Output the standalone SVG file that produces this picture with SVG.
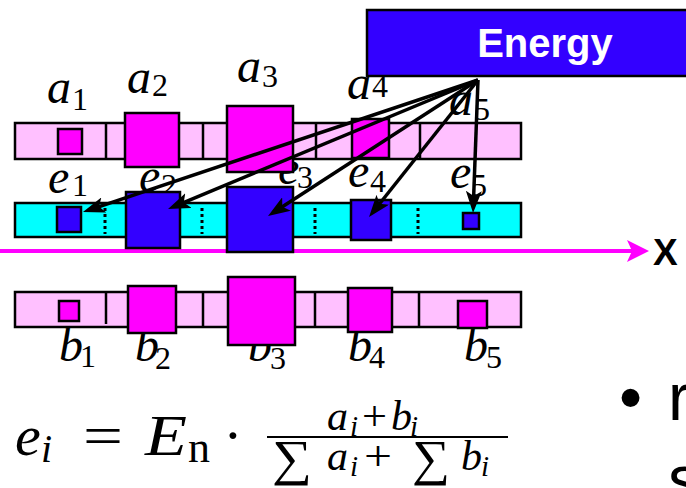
<svg xmlns="http://www.w3.org/2000/svg" width="686" height="488" viewBox="0 0 686 488">
<style>
.bar{stroke:#000;stroke-width:2.5}
.pink{fill:#ffc0ff}
.cyan{fill:#00ffff}
.mag{fill:#ff00ff;stroke:#000;stroke-width:2.5}
.blue{fill:#3300ff;stroke:#000;stroke-width:2.5}
.div{stroke:#000;stroke-width:2.5}
.dot{stroke:#000;stroke-width:3;stroke-dasharray:3 3}
.v{font-family:"Liberation Serif","Times New Roman",serif;font-style:italic;font-size:48px;fill:#000}
.s{font-family:"Liberation Serif","Times New Roman",serif;font-size:32px;fill:#000}
.f{font-family:"Liberation Serif","Times New Roman",serif;fill:#000}
.conn{stroke:#000;stroke-width:3.5;fill:none;marker-end:url(#ah)}
</style>
<defs>
<marker id="ah" markerUnits="userSpaceOnUse" markerWidth="22" markerHeight="16" refX="15" refY="8" orient="auto" viewBox="0 0 22 16">
<path d="M0,0 L22,8 L0,16 L5,8 z" fill="#000"/>
</marker>
</defs>

<g id="bars">
<rect class="bar pink" x="15" y="123" width="506" height="36"/>
<line class="div" x1="106" y1="123" x2="106" y2="159"/>
<line class="div" x1="203" y1="123" x2="203" y2="159"/>
<line class="div" x1="316" y1="123" x2="316" y2="159"/>
<line class="div" x1="420" y1="123" x2="420" y2="159"/>
<rect class="bar cyan" x="15" y="203" width="506" height="34"/>
<line class="dot" x1="105" y1="208" x2="105" y2="234"/>
<line class="dot" x1="202" y1="208" x2="202" y2="234"/>
<line class="dot" x1="315" y1="208" x2="315" y2="234"/>
<line class="dot" x1="418" y1="208" x2="418" y2="234"/>
<rect class="bar pink" x="15" y="292" width="506" height="35"/>
<line class="div" x1="106" y1="292" x2="106" y2="324"/>
<line class="div" x1="203" y1="292" x2="203" y2="327"/>
<line class="div" x1="315" y1="292" x2="315" y2="327"/>
<line class="div" x1="419" y1="292" x2="419" y2="327"/>
</g>

<g id="axis">
<line x1="0" y1="251" x2="633" y2="251" stroke="#ff00ff" stroke-width="4"/>
<polygon points="649,251 627,240 632,251 627,262" fill="#ff00ff"/>
<text x="653" y="265" font-family="Liberation Sans,Arial,sans-serif" font-weight="bold" font-size="37">X</text>
</g>

<g id="e1"><text class="v" x="48" y="193">e</text><text class="s" x="72" y="196">1</text><rect class="blue" x="57" y="207" width="24" height="25"/></g>
<g id="e2"><text class="v" x="139" y="192">e</text><text class="s" x="161" y="196">2</text><rect class="blue" x="126" y="192" width="54" height="56"/></g>
<g id="e3"><text class="v" x="278" y="184">e</text><text class="s" x="297" y="188">3</text><rect class="blue" x="227" y="187" width="66" height="65"/></g>
<g id="e4"><text class="v" x="348" y="187">e</text><text class="s" x="370" y="192">4</text><rect class="blue" x="351" y="200" width="40" height="40"/></g>
<g id="e5"><text class="v" x="450" y="188">e</text><text class="s" x="471" y="196">5</text><rect class="blue" x="463" y="213" width="16" height="16"/></g>

<g id="a1"><text class="v" x="47" y="103">a</text><text class="s" x="72" y="110">1</text><rect class="mag" x="58" y="129" width="24" height="25"/></g>
<g id="a2"><text class="v" x="127" y="93">a</text><text class="s" x="152" y="96">2</text><rect class="mag" x="125" y="113" width="54" height="54"/></g>
<g id="a3"><text class="v" x="237" y="82">a</text><text class="s" x="262" y="87">3</text><rect class="mag" x="227" y="106" width="66" height="66"/></g>
<g id="a4"><text class="v" x="347" y="99">a</text><text class="s" x="372" y="97">4</text><rect class="mag" x="352" y="119" width="37" height="39"/></g>
<g id="a5"><text class="v" x="449" y="115">a</text><text class="s" x="474" y="120">5</text></g>

<g id="b1"><text class="v" x="59" y="361">b</text><text class="s" x="80" y="367">1</text><rect class="mag" x="59" y="301" width="20" height="20"/></g>
<g id="b2"><text class="v" x="135" y="361">b</text><text class="s" x="155" y="369">2</text><rect class="mag" x="128" y="286" width="48" height="47"/></g>
<g id="b3"><text class="v" x="248" y="361">b</text><text class="s" x="270" y="369">3</text><rect class="mag" x="228" y="277" width="67" height="68"/></g>
<g id="b4"><text class="v" x="348" y="361">b</text><text class="s" x="369" y="368">4</text><rect class="mag" x="348" y="288" width="44" height="44"/></g>
<g id="b5"><text class="v" x="464" y="361">b</text><text class="s" x="486" y="368">5</text><rect class="mag" x="458" y="301" width="29" height="27"/></g>

<g id="energy">
<rect x="367" y="10" width="330" height="66" fill="#3300ff" stroke="#000" stroke-width="2.5"/>
<text x="545" y="57" text-anchor="middle" font-family="Liberation Sans,Arial,sans-serif" font-weight="bold" font-size="40" fill="#fff">Energy</text>
</g>

<g id="connectors">
<line class="conn" x1="478" y1="80" x2="89.6" y2="209.8"/>
<line class="conn" x1="478" y1="80" x2="174.5" y2="206.3"/>
<line class="conn" x1="478" y1="80" x2="273.9" y2="212.2"/>
<line class="conn" x1="478" y1="80" x2="373.4" y2="211.5"/>
<line class="conn" x1="478" y1="80" x2="473.3" y2="206"/>
</g>

<g id="formula">
<text class="f" x="15" y="455" font-size="58" font-style="italic">e</text>
<text class="f" x="41" y="462" font-size="40" font-style="italic">i</text>
<text class="f" x="83" y="455" font-size="58" textLength="40" lengthAdjust="spacingAndGlyphs">=</text>
<text class="f" x="145" y="455" font-size="58" font-style="italic" textLength="42" lengthAdjust="spacingAndGlyphs">E</text>
<text class="f" x="188" y="462" font-size="44">n</text>
<text class="f" x="233" y="455" font-size="58" text-anchor="middle">·</text>
<line x1="267" y1="437" x2="508" y2="437" stroke="#000" stroke-width="2"/>
<text class="f" x="327" y="430" font-size="42" font-style="italic">a</text>
<text class="f" x="350" y="436" font-size="29" font-style="italic">i</text>
<text class="f" x="362" y="430" font-size="42" textLength="25" lengthAdjust="spacingAndGlyphs">+</text>
<text class="f" x="391" y="430" font-size="42" font-style="italic">b</text>
<text class="f" x="410" y="436" font-size="29" font-style="italic">i</text>
<text class="f" x="272" y="475" font-size="50" textLength="40" lengthAdjust="spacingAndGlyphs">∑</text>
<text class="f" x="327" y="470" font-size="42" font-style="italic">a</text>
<text class="f" x="350" y="476" font-size="29" font-style="italic">i</text>
<text class="f" x="364" y="470" font-size="42" textLength="28" lengthAdjust="spacingAndGlyphs">+</text>
<text class="f" x="412" y="475" font-size="50" textLength="38" lengthAdjust="spacingAndGlyphs">∑</text>
<text class="f" x="461" y="470" font-size="42" font-style="italic">b</text>
<text class="f" x="481" y="476" font-size="29" font-style="italic">i</text>
</g>

<g id="bullet" font-family="Liberation Sans,Arial,sans-serif" font-size="66" fill="#000">
<text x="619" y="420">•</text>
<text x="668" y="420">r</text>
<text x="668" y="502">s</text>
</g>
</svg>
